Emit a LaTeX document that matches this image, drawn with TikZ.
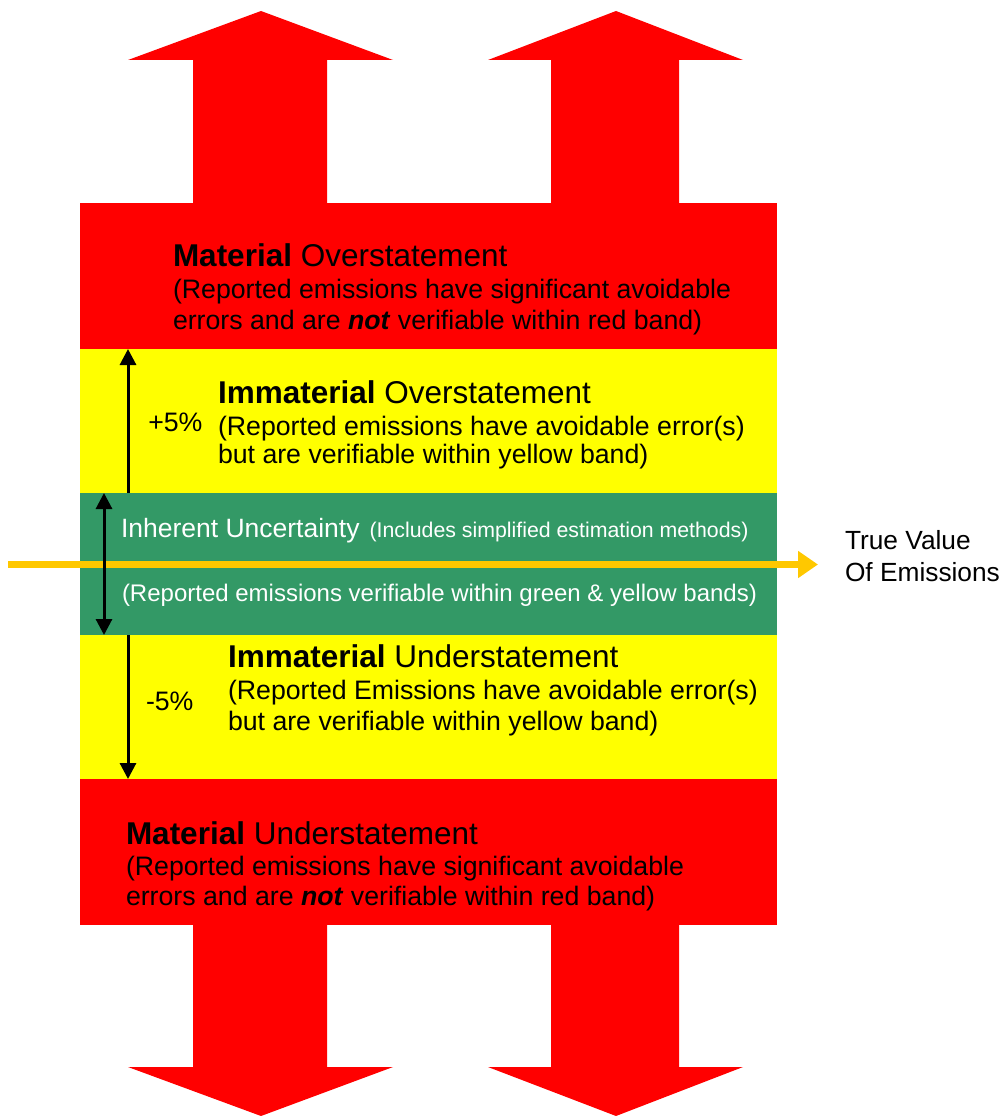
\documentclass[tikz,border=0pt]{standalone}
\usepackage{fontspec}
\setmainfont{Liberation Sans}
\usetikzlibrary{arrows.meta}
\definecolor{bandred}{HTML}{FF0000}
\definecolor{bandyellow}{HTML}{FFFF00}
\definecolor{bandgreen}{HTML}{339966}
\definecolor{truegold}{HTML}{FFC800}
\tikzset{
  band/.style={draw=none},
  bigarrow/.style={fill=bandred,draw=none},
  txt/.style={anchor=base west,inner sep=0pt,outer sep=0pt},
  ttl/.style={txt,font=\fontsize{31.5}{36}\selectfont},
  body/.style={txt,font=\fontsize{26.7}{31}\selectfont},
  gbody/.style={txt,text=white,font=\fontsize{24}{28}\selectfont},
  rangearrow/.style={line width=3pt,-{Triangle[length=16pt,width=16pt]}},
  rangedouble/.style={line width=3pt,{Triangle[length=16pt,width=16pt]}-{Triangle[length=16pt,width=16pt]}},
  truearrow/.style={draw=truegold,line width=7.6pt,-{Triangle[length=20pt,width=26pt]}}
}
\begin{document}
\begin{tikzpicture}[x=1pt,y=-1pt]
\useasboundingbox (0,0) rectangle (1005,1116);
% big red arrows up
\fill[bigarrow] (193,204) -- (193,60) -- (128,60) -- (261,11) -- (393,60) -- (327,60) -- (327,204) -- cycle;
\fill[bigarrow] (551,204) -- (551,60) -- (488,60) -- (616,11) -- (743,60) -- (679,60) -- (679,204) -- cycle;
% big red arrows down
\fill[bigarrow] (193,924) -- (193,1067) -- (128,1067) -- (261,1116) -- (393,1067) -- (327,1067) -- (327,924) -- cycle;
\fill[bigarrow] (551,924) -- (551,1067) -- (488,1067) -- (616,1116) -- (743,1067) -- (679,1067) -- (679,924) -- cycle;
% bands
\fill[bandred] (80,203) rectangle (777,349);
\fill[bandyellow] (80,349) rectangle (777,493);
\fill[bandgreen] (80,493) rectangle (777,635);
\fill[bandyellow] (80,635) rectangle (777,779);
\fill[bandred] (80,779) rectangle (777,925);
% true value arrow
\coordinate (tvstart) at (8,564.5);
\node[txt,font=\fontsize{26.3}{30}\selectfont] (tv1) at (845,549.3) {True Value};
\node[txt,font=\fontsize{26.3}{30}\selectfont] (tv2) at (845,581) {Of Emissions};
\coordinate (tvend) at (818,564.5);
\draw[truearrow] (tvstart) -- (tvend);
% range arrows
\coordinate (p5top) at (128,349);
\coordinate (p5bot) at (128,493);
\coordinate (gtop) at (104,493);
\coordinate (gbot) at (104,635);
\coordinate (m5top) at (128,635);
\coordinate (m5bot) at (128,779);
\draw[rangearrow] (p5bot) -- (p5top);
\draw[rangedouble] (gtop) -- (gbot);
\draw[rangearrow] (m5top) -- (m5bot);
\node[body] (p5) at (148.3,431.7) {+5\%};
\node[body] (m5) at (146,710.7) {-5\%};
% Material overstatement
\node[ttl] (mo1) at (173,266.7) {\textbf{Material} Overstatement};
\node[body] (mo2) at (173,298) {(Reported emissions have significant avoidable};
\node[body] (mo3) at (173,329) {errors and are \textbf{\textit{not}} verifiable within red band)};
% Immaterial overstatement
\node[ttl] (io1) at (218,403.3) {\textbf{Immaterial} Overstatement};
\node[body] (io2) at (218,435) {(Reported emissions have avoidable error(s)};
\node[body] (io3) at (218,463.5) {but are verifiable within yellow band)};
% Green
\node[txt,text=white] (g1) at (121,537.5) {{\fontsize{26.5}{30}\selectfont Inherent Uncertainty}\hspace{10pt}{\fontsize{21.3}{25}\selectfont (Includes simplified estimation methods)}};
\node[gbody] (g2) at (122,601.7) {(Reported emissions verifiable within green \& yellow bands)};
% Immaterial understatement
\node[ttl] (iu1) at (228,667.3) {\textbf{Immaterial} Understatement};
\node[body] (iu2) at (228,699.3) {(Reported Emissions have avoidable error(s)};
\node[body] (iu3) at (228,730) {but are verifiable within yellow band)};
% Material understatement
\node[ttl] (mu1) at (126,844) {\textbf{Material} Understatement};
\node[body] (mu2) at (126,875) {(Reported emissions have significant avoidable};
\node[body] (mu3) at (126,905) {errors and are \textbf{\textit{not}} verifiable within red band)};
\end{tikzpicture}
\end{document}
